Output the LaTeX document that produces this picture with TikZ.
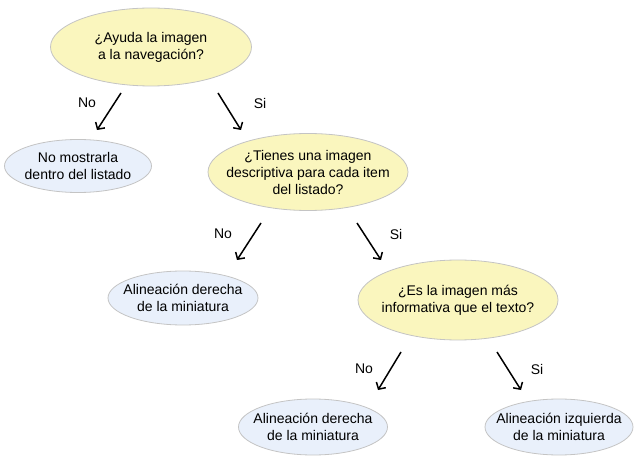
\documentclass[tikz,border=0pt]{standalone}
\usepackage{fontspec}
\setmainfont{Liberation Sans}
\usetikzlibrary{arrows.meta,shapes.geometric}
\definecolor{qyellow}{HTML}{FAF6BE}
\definecolor{ablue}{HTML}{E9F0FB}
\definecolor{edgegray}{HTML}{C4C4C4}
\tikzset{
  base/.style={ellipse, draw=edgegray, line width=0.8pt, inner xsep=-30pt, inner ysep=-15pt, align=center,
    font=\fontsize{14}{17}\selectfont},
  question/.style={base, fill=qyellow},
  answer/.style={base, fill=ablue},
  arr/.style={line width=1.5pt, -{Straight Barb[length=5pt,width=11pt,line width=1.5pt]}},
  lbl/.style={font=\fontsize{14}{16}\selectfont}
}
\begin{document}
\begin{tikzpicture}[x=1pt,y=-1pt]
\useasboundingbox (0,0) rectangle (640,470);
\node[question, minimum width=201pt, minimum height=78pt] (q1) at (151,47) {¿Ayuda la imagen\\a la navegación?};
\node[answer, minimum width=147pt, minimum height=53pt] (a1) at (78,166) {No mostrarla\\dentro del listado};
\node[question, minimum width=200pt, minimum height=77pt] (q2) at (308,172) {¿Tienes una imagen\\descriptiva para cada item\\del listado?};
\node[answer, minimum width=150pt, minimum height=54pt] (a2) at (183,298) {Alineación derecha\\de la miniatura};
\node[question, minimum width=200pt, minimum height=80pt] (q3) at (458,300) {¿Es la imagen más\\informativa que el texto?};
\node[answer, minimum width=149pt, minimum height=56pt] (a3) at (313,427) {Alineación derecha\\de la miniatura};
\node[answer, minimum width=148pt, minimum height=56pt] (a4) at (559,427) {Alineación izquierda\\de la miniatura};

\coordinate (s1n) at (121,93); \coordinate (e1n) at (97,130);
\coordinate (s1s) at (218,93); \coordinate (e1s) at (241,130);
\coordinate (s2n) at (261,223); \coordinate (e2n) at (237,260);
\coordinate (s2s) at (357,223); \coordinate (e2s) at (381,260);
\coordinate (s3n) at (401,352); \coordinate (e3n) at (378,390);
\coordinate (s3s) at (497,352); \coordinate (e3s) at (521,390);

\draw[arr] (s1n) -- (e1n);
\draw[arr] (s1s) -- (e1s);
\draw[arr] (s2n) -- (e2n);
\draw[arr] (s2s) -- (e2s);
\draw[arr] (s3n) -- (e3n);
\draw[arr] (s3s) -- (e3s);

\node[lbl] (l1n) at (87,103) {No};
\node[lbl] (l1s) at (260,103) {Si};
\node[lbl] (l2n) at (223,234) {No};
\node[lbl] (l2s) at (396,234) {Si};
\node[lbl] (l3n) at (364,369) {No};
\node[lbl] (l3s) at (537,369) {Si};
\end{tikzpicture}
\end{document}
